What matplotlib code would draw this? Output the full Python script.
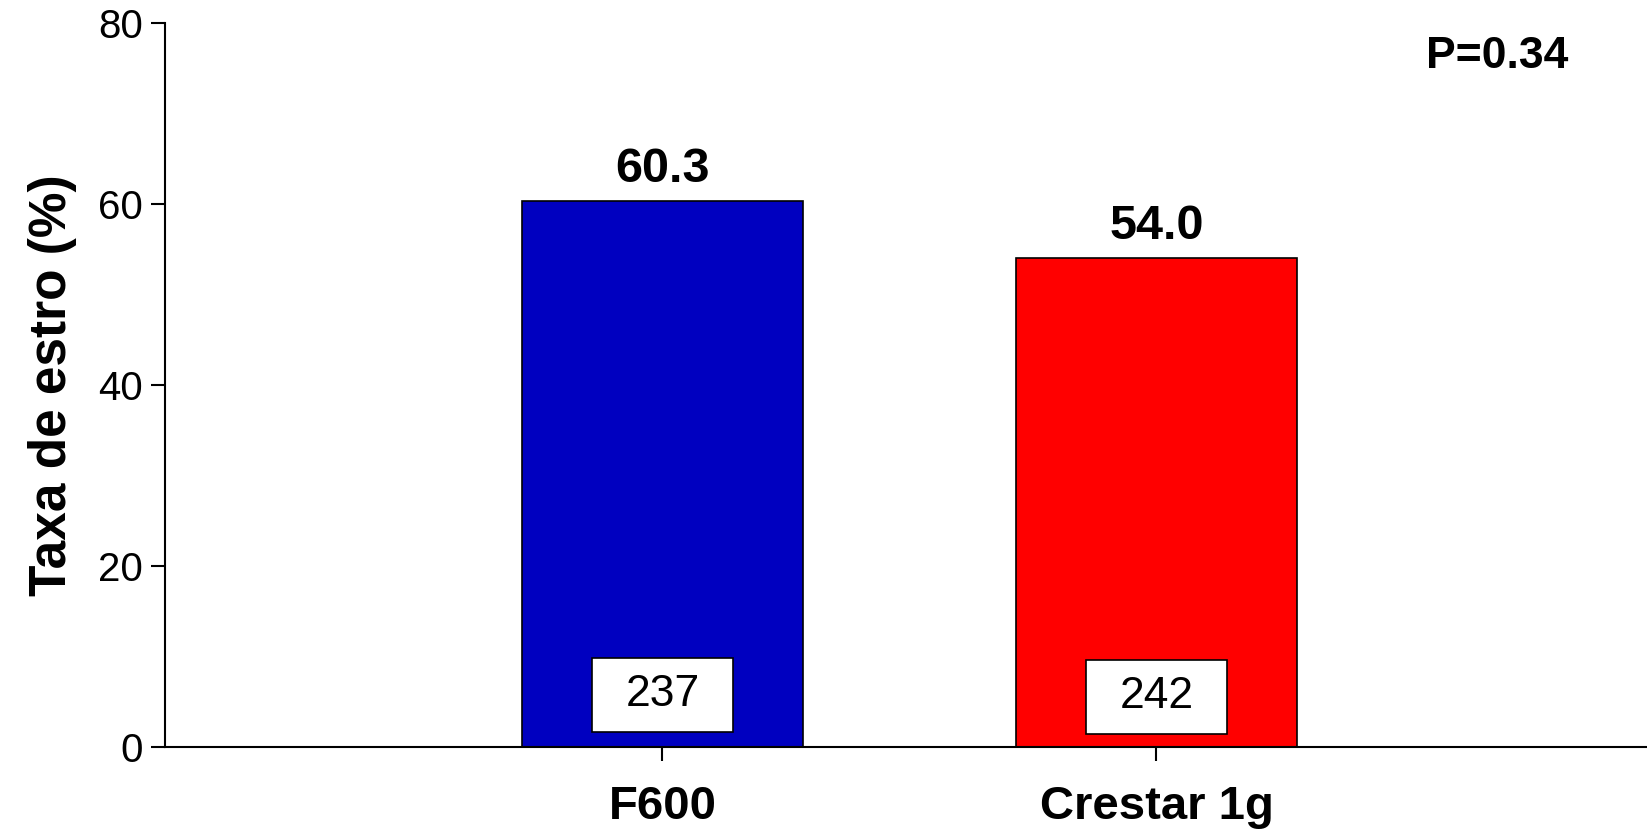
import matplotlib
matplotlib.use("Agg")
import matplotlib.pyplot as plt
from matplotlib.patches import Rectangle

categories = ["F600", "Crestar 1g"]
values = [60.3, 54.0]
counts = [237, 242]
colors = ["#0000C0", "#FF0000"]
p_text = "P=0.34"
y_ticks = [0, 20, 40, 60, 80]

plt.rcParams['font.family'] = ['Liberation Sans', 'DejaVu Sans']

fig = plt.figure(figsize=(16.47, 8.3), dpi=100)
ax = fig.add_axes([0.1002, 0.1, 0.8998, 0.872])

x = [1, 2]
ax.bar(x, values, width=0.567, color=colors, edgecolor="black", linewidth=1.2, zorder=2)

ax.set_xlim(-0.007, 2.993)
ax.set_ylim(0, 80)
ax.set_yticks(y_ticks)
ax.set_yticklabels([str(t) for t in y_ticks], fontsize=29)
ax.set_xticks(x)
ax.set_xticklabels(categories, fontsize=34, fontweight="bold")
ax.tick_params(axis="y", direction="out", length=10, width=1.5, pad=6)
ax.tick_params(axis="x", direction="out", length=10, width=1.5, pad=17)
for s in ["top", "right"]:
    ax.spines[s].set_visible(False)
for s in ["left", "bottom"]:
    ax.spines[s].set_linewidth(1.5)

ax.set_ylabel("Taxa de estro (%)", fontsize=37, fontweight="bold", labelpad=15)

for xi, v in zip(x, values):
    ax.annotate(f"{v:.1f}", (xi, v), xytext=(0, 7), textcoords="offset points",
                ha="center", va="bottom", fontsize=35, fontweight="bold")

box_w = 0.284
for xi, n, yb in zip(x, counts, [1.66, 1.45]):
    ax.add_patch(Rectangle((xi - box_w / 2, yb), box_w, 8.2, facecolor="white",
                           edgecolor="black", linewidth=1.2, zorder=3))
    ax.text(xi, yb + 4.1, str(n), ha="center", va="center", fontsize=32, zorder=4)

ax.text(2.69, 76.3, p_text, ha="center", va="center", fontsize=32, fontweight="bold")

fig.savefig("out.png", dpi=100)
